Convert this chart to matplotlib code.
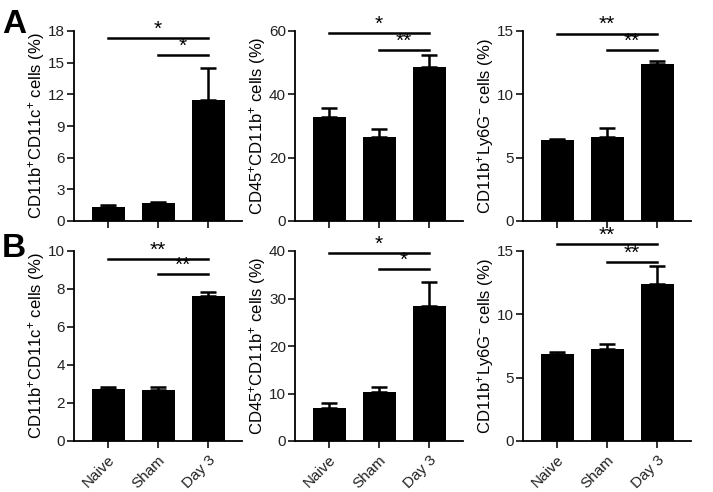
import matplotlib
matplotlib.use("Agg")
import matplotlib.pyplot as plt
import numpy as np

plt.rcParams["font.family"] = ["Liberation Sans", "DejaVu Sans"]
plt.rcParams["mathtext.fontset"] = "custom"
plt.rcParams["mathtext.rm"] = "Liberation Sans"
plt.rcParams["mathtext.it"] = "Liberation Sans:italic"
plt.rcParams["mathtext.bf"] = "Liberation Sans:bold"

groups = ["Naive", "Sham", "Day 3"]

# row A
a1_mean = [1.35, 1.67, 11.5]
a1_err = [0.15, 0.17, 3.0]
a2_mean = [32.9, 26.5, 48.7]
a2_err = [2.9, 2.6, 3.7]
a3_mean = [6.39, 6.66, 12.42]
a3_err = [0.08, 0.68, 0.21]

# row B
b1_mean = [2.75, 2.70, 7.63]
b1_err = [0.09, 0.14, 0.21]
b2_mean = [7.0, 10.25, 28.35]
b2_err = [1.07, 1.12, 5.15]
b3_mean = [6.89, 7.29, 12.37]
b3_err = [0.14, 0.39, 1.42]

ylabels = [
    r"CD11b$^{+}$CD11c$^{+}$ cells (%)",
    r"CD45$^{+}$CD11b$^{+}$ cells (%)",
    r"CD11b$^{+}$Ly6G$^{-}$ cells (%)",
]
ymax_a = [18, 60, 15]
ystep_a = [3, 20, 5]
ymax_b = [10, 40, 15]
ystep_b = [2, 10, 5]

# significance: (Naive vs Day 3, Sham vs Day 3) and line heights
sig_a = [("*", "*"), ("*", "**"), ("**", "**")]
sig_a_y = [(17.3, 15.7), (59.4, 54.0), (14.8, 13.5)]
sig_b = [("**", "**"), ("*", "*"), ("**", "**")]
sig_b_y = [(9.58, 8.8), (39.6, 36.2), (15.55, 14.1)]

fig = plt.figure(figsize=(7.13, 4.92), dpi=100)

lefts = [74 / 713, 295 / 713, 523 / 713]
width = 168 / 713
bottoms = [1 - 221 / 492, 1 - 441 / 492]
height = 190 / 492

rows = [
    ([a1_mean, a2_mean, a3_mean], [a1_err, a2_err, a3_err], ymax_a, ystep_a, sig_a, sig_a_y),
    ([b1_mean, b2_mean, b3_mean], [b1_err, b2_err, b3_err], ymax_b, ystep_b, sig_b, sig_b_y),
]

x = np.arange(len(groups))
for r, (means, errs, ymaxs, steps, sigs, sigys) in enumerate(rows):
    for c in range(3):
        ax = fig.add_axes([lefts[c], bottoms[r], width, height])
        ax.bar(x, means[c], width=0.66, color="black", zorder=2)
        ax.errorbar(x, means[c], yerr=[np.zeros(3), errs[c]], fmt="none",
                    ecolor="black", elinewidth=1.8, capsize=6, capthick=1.8, zorder=1)
        ax.set_xlim(-0.68, 2.68)
        ax.set_ylim(0, ymaxs[c])
        ax.set_yticks(np.arange(0, ymaxs[c] + 0.01, steps[c]))
        ax.set_xticks(x)
        if r == 1:
            ax.set_xticklabels(groups, rotation=45, ha="right", rotation_mode="anchor",
                               fontsize=12)
        else:
            ax.set_xticklabels([])
        for s in ["top", "right"]:
            ax.spines[s].set_visible(False)
        for s in ["left", "bottom"]:
            ax.spines[s].set_linewidth(1.3)
        ax.tick_params(axis="both", length=5, width=1.3, labelsize=11, colors="#222222")
        ax.tick_params(axis="y", pad=1.5)
        ax.set_ylabel(ylabels[c], fontsize=12)
        ax.yaxis.set_label_coords(-0.16, 0.5)

        # significance bars
        y1, y2 = sigys[c]
        t1, t2 = sigs[c]
        ax.plot([0, 2], [y1, y1], color="black", lw=1.8, clip_on=False)
        ax.plot([1, 2], [y2, y2], color="black", lw=1.8, clip_on=False)
        ax.annotate(t1, (1, y1), xytext=(0, -0.5), textcoords="offset points",
                    ha="center", va="bottom", fontsize=15, annotation_clip=False)
        ax.annotate(t2, (1.5, y2), xytext=(0, -0.5), textcoords="offset points",
                    ha="center", va="bottom", fontsize=15, annotation_clip=False)

fig.text(2 / 713, 1 - 33 / 492, "A", fontsize=24, fontweight="bold", ha="left", va="baseline")
fig.text(2 / 713, 1 - 257 / 492, "B", fontsize=24, fontweight="bold", ha="left", va="baseline")

fig.savefig("out.png", dpi=100)
